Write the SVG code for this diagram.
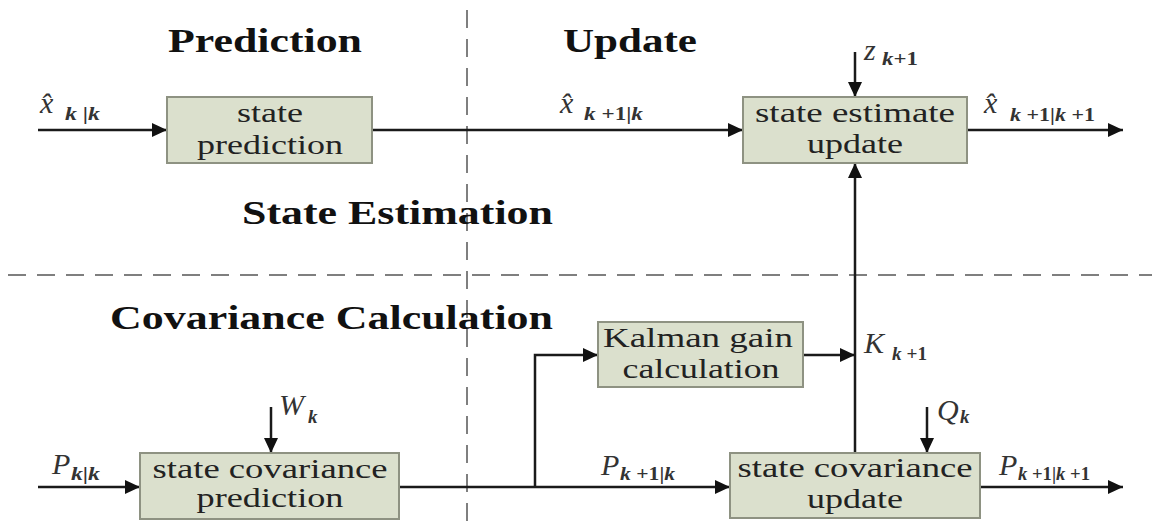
<svg xmlns="http://www.w3.org/2000/svg" width="1158" height="532" viewBox="0 0 1158 532">
<style>
.title{font-family:"Liberation Serif","Times New Roman",serif;font-weight:bold;font-size:34px;fill:#111}
.bt{font-family:"Liberation Serif","Times New Roman",serif;font-size:27px;fill:#222;text-anchor:middle}
.box{fill:#dbe0cd;stroke:#8e9282;stroke-width:2}
.m{font-family:"Liberation Serif","Times New Roman",serif;font-style:italic;font-size:30px;fill:#333}
.s{font-family:"Liberation Serif","Times New Roman",serif;font-style:italic;font-weight:bold;font-size:19px;fill:#333}
.up{font-style:normal}
.ln{fill:none;stroke:#1a1a1a;stroke-width:2.5}
.dash{fill:none;stroke:#7f7f7f;stroke-width:2;stroke-dasharray:18 11}
</style>
<defs>
<marker id="ah" markerUnits="userSpaceOnUse" markerWidth="16" markerHeight="14" refX="15" refY="7" orient="auto">
<path d="M0,0 L15,7 L0,14 z" fill="#111"/>
</marker>
</defs>
<rect width="1158" height="532" fill="#fff"/>
<g id="dividers">
<line class="dash" x1="467" y1="10" x2="467" y2="532"/>
<line class="dash" x1="8" y1="275" x2="1152" y2="275"/>
</g>
<g id="titles">
<text class="title" x="168" y="52" textLength="194" lengthAdjust="spacingAndGlyphs">Prediction</text>
<text class="title" x="563" y="52" textLength="134" lengthAdjust="spacingAndGlyphs">Update</text>
<text class="title" x="242" y="224" textLength="311" lengthAdjust="spacingAndGlyphs">State Estimation</text>
<text class="title" x="110" y="329" textLength="443" lengthAdjust="spacingAndGlyphs">Covariance Calculation</text>
</g>
<g id="connectors">
<line class="ln" x1="38" y1="130" x2="167" y2="130" marker-end="url(#ah)"/>
<line class="ln" x1="372" y1="130" x2="743" y2="130" marker-end="url(#ah)"/>
<line class="ln" x1="967" y1="130" x2="1123" y2="130" marker-end="url(#ah)"/>
<line class="ln" x1="855" y1="52" x2="855" y2="97" marker-end="url(#ah)"/>
<line class="ln" x1="855" y1="453" x2="855" y2="163" marker-end="url(#ah)"/>
<line class="ln" x1="803" y1="355" x2="855" y2="355" marker-end="url(#ah)"/>
<path class="ln" d="M535,487 V355 H598" marker-end="url(#ah)"/>
<line class="ln" x1="38" y1="487" x2="140" y2="487" marker-end="url(#ah)"/>
<line class="ln" x1="399" y1="487" x2="730" y2="487" marker-end="url(#ah)"/>
<line class="ln" x1="980" y1="487" x2="1123" y2="487" marker-end="url(#ah)"/>
<line class="ln" x1="271" y1="407" x2="271" y2="453" marker-end="url(#ah)"/>
<line class="ln" x1="927" y1="407" x2="927" y2="453" marker-end="url(#ah)"/>
</g>
<g id="state-prediction">
<rect class="box" x="167" y="97" width="205" height="66"/>
<text class="bt" x="270" y="122" textLength="66" lengthAdjust="spacingAndGlyphs">state</text>
<text class="bt" x="270" y="154" textLength="146" lengthAdjust="spacingAndGlyphs">prediction</text>
</g>
<g id="state-estimate-update">
<rect class="box" x="743" y="97" width="224" height="66"/>
<text class="bt" x="855" y="122" textLength="200" lengthAdjust="spacingAndGlyphs">state estimate</text>
<text class="bt" x="855" y="153" textLength="96" lengthAdjust="spacingAndGlyphs">update</text>
</g>
<g id="kalman-gain">
<rect class="box" x="598" y="322" width="205" height="65"/>
<text class="bt" x="698" y="347" textLength="190" lengthAdjust="spacingAndGlyphs">Kalman gain</text>
<text class="bt" x="701" y="378" textLength="157" lengthAdjust="spacingAndGlyphs">calculation</text>
</g>
<g id="state-covariance-prediction">
<rect class="box" x="140" y="453" width="259" height="66"/>
<text class="bt" x="270" y="478" textLength="235" lengthAdjust="spacingAndGlyphs">state covariance</text>
<text class="bt" x="270" y="507" textLength="147" lengthAdjust="spacingAndGlyphs">prediction</text>
</g>
<g id="state-covariance-update">
<rect class="box" x="730" y="453" width="250" height="65"/>
<text class="bt" x="855" y="477" textLength="235" lengthAdjust="spacingAndGlyphs">state covariance</text>
<text class="bt" x="855" y="508" textLength="96" lengthAdjust="spacingAndGlyphs">update</text>
</g>
<g id="labels">
<text class="m" x="40" y="113">x̂</text>
<text class="s" x="65" y="120" textLength="35" lengthAdjust="spacingAndGlyphs">k <tspan class="up">|</tspan>k</text>
<text class="m" x="560" y="113">x̂</text>
<text class="s" x="584" y="120" textLength="59" lengthAdjust="spacingAndGlyphs">k <tspan class="up">+1|</tspan>k</text>
<text class="m" x="984" y="113">x̂</text>
<text class="s" x="1010" y="121" textLength="85" lengthAdjust="spacingAndGlyphs">k <tspan class="up">+1|</tspan>k <tspan class="up">+1</tspan></text>
<text class="m" x="864" y="60">z</text>
<text class="s" x="882" y="65" textLength="36" lengthAdjust="spacingAndGlyphs">k<tspan class="up">+1</tspan></text>
<text class="m" x="864" y="353">K</text>
<text class="s" x="892" y="360" textLength="35" lengthAdjust="spacingAndGlyphs">k <tspan class="up">+1</tspan></text>
<text class="m" x="937" y="420" font-size="25">Q</text>
<text class="s" x="960" y="423" font-size="15">k</text>
<text class="m" x="279" y="415" font-size="25">W</text>
<text class="s" x="308" y="423" font-size="15">k</text>
<text class="m" x="52" y="474">P</text>
<text class="s" x="71" y="480" textLength="29" lengthAdjust="spacingAndGlyphs">k<tspan class="up">|</tspan>k</text>
<text class="m" x="601" y="475">P</text>
<text class="s" x="620" y="480" textLength="55" lengthAdjust="spacingAndGlyphs">k <tspan class="up">+1|</tspan>k</text>
<text class="m" x="999" y="475">P</text>
<text class="s" x="1018" y="480" textLength="72" lengthAdjust="spacingAndGlyphs">k <tspan class="up">+1|</tspan>k <tspan class="up">+1</tspan></text>
</g>
</svg>
